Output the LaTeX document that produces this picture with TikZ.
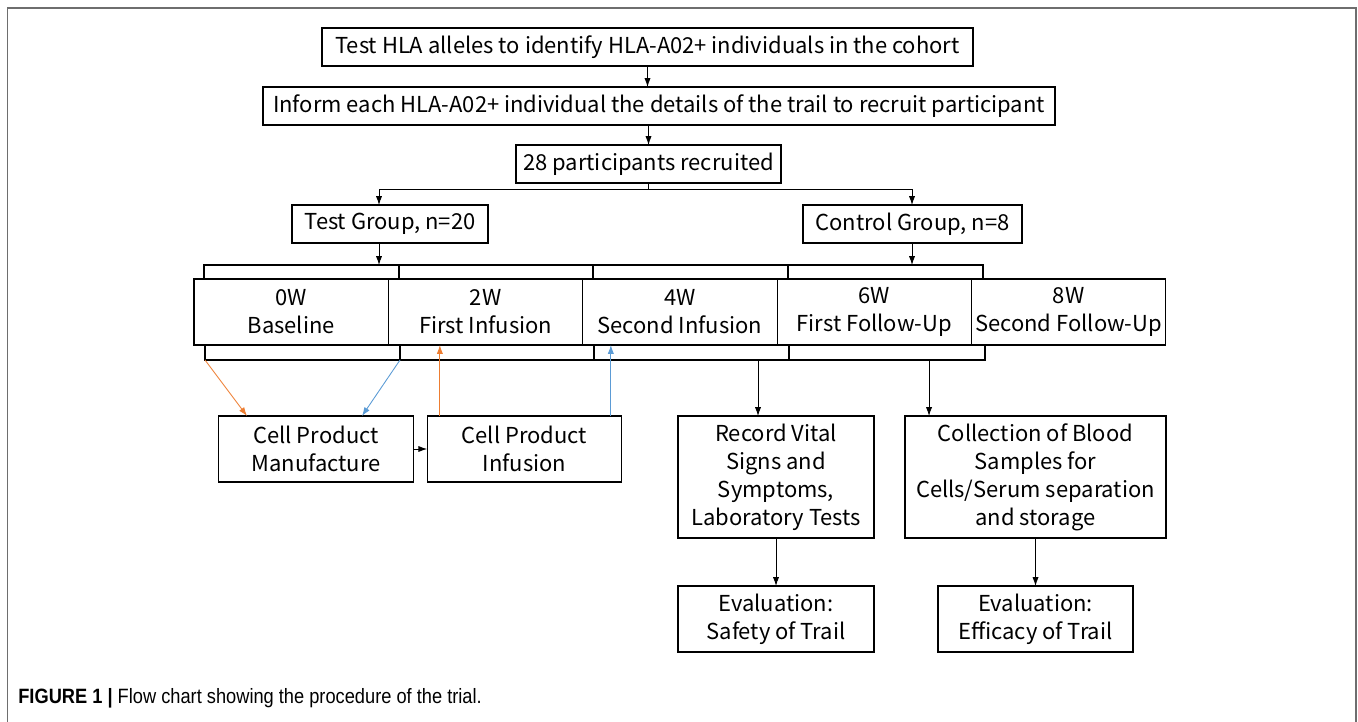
\documentclass[tikz,border=0pt]{standalone}
\usepackage{fontspec}
\setmainfont{Noto Sans CJK SC}
\newfontfamily\capfont[FakeStretch=0.88]{Liberation Sans}
\usetikzlibrary{positioning}
\usetikzlibrary{arrows.meta}
\definecolor{infuseorange}{HTML}{ED7D31}
\definecolor{infuseblue}{HTML}{5B9BD5}
\definecolor{framegray}{HTML}{6E6E6E}

\tikzset{
  box/.style={draw, line width=0.7pt, inner sep=0pt, outer sep=0pt, align=center,
    font=\fontsize{12.5}{15.9}\selectfont, minimum height=0.76cm},
  phase/.style={box, minimum width=3.888cm, minimum height=1.32cm},
  flow/.style={-{Latex[length=5pt,width=3.5pt]}, line width=0.5pt},
}

\begin{document}
\begin{tikzpicture}[x=0.02cm, y=-0.02cm]
  \useasboundingbox (0,0) rectangle (1358,722);
  \draw[framegray, line width=0.9pt] (7.5,722) -- (7.5,8) -- (1356,8) -- (1356,722);

  % recruitment
  \node[box, minimum width=13.02cm] (hla) at (647.5,47) {Test HLA alleles to identify HLA-A02+ individuals in the cohort};
  \node[box, minimum width=15.84cm] (inform) at (659,106) {Inform each HLA-A02+ individual the details of the trail to recruit participant};
  \node[box, minimum width=5.3cm] (recruit) at (648.5,164) {28 participants recruited};
  \node[box, minimum width=3.92cm] (testgrp) at (390,224) {Test Group, n=20};
  \node[box, minimum width=4.38cm] (ctrlgrp) at (912.5,224) {Control Group, n=8};

  \coordinate (tsplit) at (379,189);
  \coordinate (csplit) at (912,189);
  \coordinate (upbar) at (0,265);
  \coordinate (lowbar) at (0,360);

  \draw[flow] (hla.south) -- (hla.south |- inform.north);
  \draw[flow] (recruit.north |- inform.south) -- (recruit.north);
  \draw[flow] (recruit.south) |- (tsplit) -- (tsplit |- testgrp.north);
  \draw[flow] (recruit.south) |- (csplit) -- (csplit |- ctrlgrp.north);
  \draw[flow] (tsplit |- testgrp.south) -- (tsplit |- upbar);
  \draw[flow] (csplit |- ctrlgrp.south) -- (csplit |- upbar);

  % visits
  \node[phase] (w0) at (291.2,312) {0W\\Baseline};
  \node[phase, right=0pt of w0] (w2) {2W\\First Infusion};
  \node[phase, right=0pt of w2] (w4) {4W\\Second Infusion};
  \node[phase, right=0pt of w4] (w6) {6W\\First Follow-Up};
  \node[phase, right=0pt of w6] (w8) {8W\\Second Follow-Up};

  \draw[line width=0.7pt] (204,279) -- (204,265) -- (983,265) -- (983,279);
  \draw[line width=0.7pt] (205,345) -- (205,360) -- (985,360) -- (985,345);
  \foreach \x in {399,593,788}
    \draw[line width=0.7pt] (\x,265) -- (\x,279);
  \foreach \x in {400,594,789}
    \draw[line width=0.7pt] (\x,345) -- (\x,360);

  % cell product and assessments
  \node[phase] (manuf) at (316,449) {Cell Product\\Manufacture};
  \node[phase, right=0.28cm of manuf] (infus) {Cell Product\\Infusion};
  \node[box, minimum width=3.92cm, minimum height=2.44cm] (record) at (776,477) {Record Vital\\Signs and\\Symptoms,\\Laboratory Tests};
  \node[box, minimum width=5.22cm, minimum height=2.44cm] (collect) at (1035.5,477) {Collection of Blood\\Samples for\\Cells/Serum separation\\and storage};
  \node[box, minimum width=3.92cm, minimum height=1.32cm, below=0.96cm of record] (safety) {Evaluation:\\Safety of Trail};
  \node[box, minimum width=3.9cm, minimum height=1.32cm, below=0.96cm of collect] (efficacy) {Evaluation:\\Efficacy of Trail};

  \coordinate (orgstart) at (205,360);
  \coordinate (bluestart) at (400,360);
  \draw[flow] (manuf) -- (infus);
  \draw[flow, infuseorange] (orgstart) -- ([xshift=-1.38cm]manuf.north);
  \draw[flow, infuseblue] (bluestart) -- ([xshift=0.92cm]manuf.north);
  \draw[flow, infuseorange] ([xshift=-1.69cm]infus.north) -- ([xshift=-1.69cm]infus.north |- w2.south);
  \draw[flow, infuseblue] ([xshift=1.73cm]infus.north) -- ([xshift=1.73cm]infus.north |- w4.south);
  \draw[flow] ([xshift=-0.36cm]record.north |- lowbar) -- ([xshift=-0.36cm]record.north);
  \draw[flow] ([xshift=-2.13cm]collect.north |- lowbar) -- ([xshift=-2.13cm]collect.north);
  \draw[flow] (record) -- (safety);
  \draw[flow] (collect) -- (efficacy);

  \node[anchor=west, inner sep=0pt, font=\capfont\fontsize{11.8}{13}\selectfont] (caption) at (18,698)
    {\textbf{FIGURE 1 |} Flow chart showing the procedure of the trial.};
\end{tikzpicture}
\end{document}
